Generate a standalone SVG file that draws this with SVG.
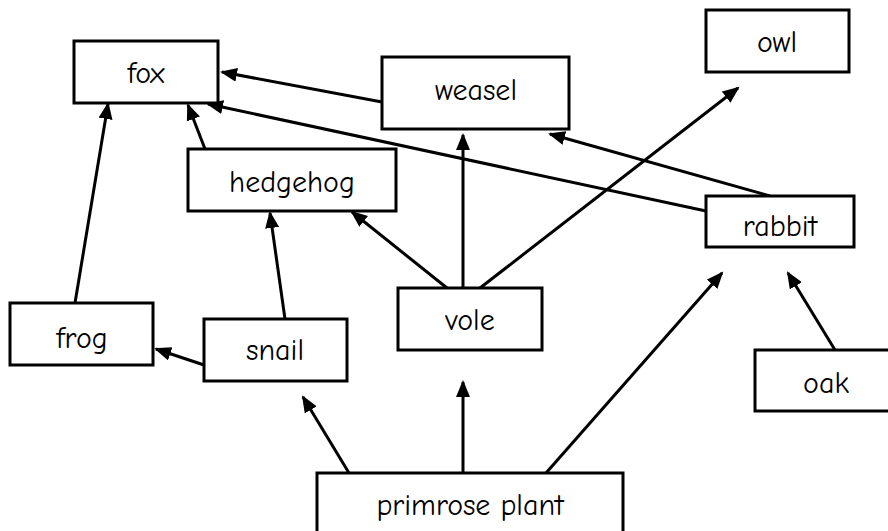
<svg xmlns="http://www.w3.org/2000/svg" width="888" height="531" viewBox="0 0 888 531">
<style>
rect.box { fill: #ffffff; stroke: #000000; stroke-width: 3; }
text { font-family: "Comic Sans MS", "Comic Neue", "DejaVu Sans", sans-serif; font-size: 30px; fill: #000000; text-anchor: middle; }
line.edge { stroke: #000000; stroke-width: 3; marker-end: url(#arrow); }
</style>
<defs>
<marker id="arrow" markerUnits="userSpaceOnUse" markerWidth="18" markerHeight="14" refX="15" refY="7" orient="auto">
<path d="M0,0 L17,7 L0,14 z" fill="#000000"/>
</marker>
</defs>
<rect width="888" height="531" fill="#ffffff"/>
<g id="connectors">
<line class="edge" x1="382" y1="102" x2="222" y2="72"/>
<line class="edge" x1="706" y1="211" x2="208" y2="104"/>
<line class="edge" x1="205" y1="149" x2="188" y2="105"/>
<line class="edge" x1="75" y1="303" x2="108" y2="104"/>
<line class="edge" x1="285" y1="319" x2="270" y2="213"/>
<line class="edge" x1="447" y1="288" x2="352" y2="212"/>
<line class="edge" x1="463" y1="288" x2="463" y2="135"/>
<line class="edge" x1="480" y1="288" x2="738" y2="88"/>
<line class="edge" x1="770" y1="196" x2="550" y2="134"/>
<line class="edge" x1="204" y1="365" x2="156" y2="349"/>
<line class="edge" x1="349" y1="473" x2="303" y2="397"/>
<line class="edge" x1="463" y1="473" x2="463" y2="382"/>
<line class="edge" x1="546" y1="473" x2="722" y2="273"/>
<line class="edge" x1="835" y1="350" x2="788" y2="273"/>
</g>
<g id="fox"><rect class="box" x="74" y="41" width="144" height="62"/><text x="146" y="83">fox</text></g>
<g id="weasel"><rect class="box" x="382" y="57" width="187" height="72"/><text x="476" y="100">weasel</text></g>
<g id="owl"><rect class="box" x="706" y="10" width="143" height="62"/><text x="777" y="52">owl</text></g>
<g id="hedgehog"><rect class="box" x="188" y="149" width="208" height="62"/><text x="292" y="192">hedgehog</text></g>
<g id="rabbit"><rect class="box" x="706" y="196" width="148" height="51"/><text x="780" y="236">rabbit</text></g>
<g id="frog"><rect class="box" x="10" y="303" width="143" height="62"/><text x="82" y="348">frog</text></g>
<g id="snail"><rect class="box" x="204" y="319" width="143" height="62"/><text x="275" y="360">snail</text></g>
<g id="vole"><rect class="box" x="398" y="288" width="144" height="62"/><text x="470" y="330">vole</text></g>
<g id="oak"><rect class="box" x="755" y="350" width="142" height="61"/><text x="826" y="393">oak</text></g>
<g id="primrose-plant"><rect class="box" x="317" y="473" width="306" height="70"/><text x="470" y="515">primrose plant</text></g>
</svg>
